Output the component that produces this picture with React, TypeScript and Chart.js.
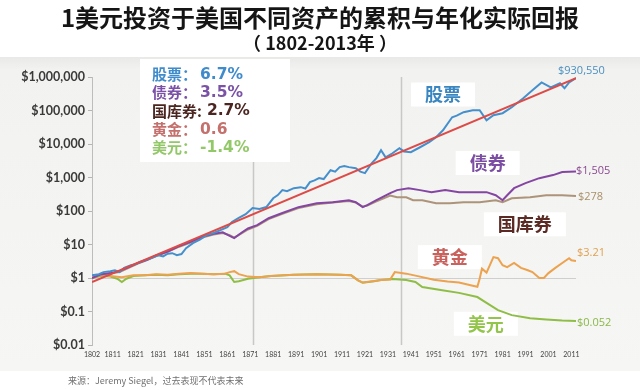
import React, { useEffect, useRef } from "react";
import { Chart, registerables } from "chart.js";
Chart.register(...registerables);

const titleText = "1美元投资于美国不同资产的累积与年化实际回报";
const subtitleText = "（ 1802-2013年 ）";
const sourceText = "来源：Jeremy Siegel，过去表现不代表未来";

const xTickYears = [1802, 1811, 1821, 1831, 1841, 1851, 1861, 1871, 1881, 1891, 1901, 1911, 1921, 1931, 1941, 1951, 1961, 1971, 1981, 1991, 2001, 2011];
const yTickValues = [0.01, 0.1, 1, 10, 100, 1000, 10000, 100000, 1000000];

const legendNames = ["股票", "债券", "国库券", "黄金", "美元"];
const legendSeps = ["：", "：", ":", "：", "："];
const legendValues = ["6.7%", "3.5%", "2.7%", "0.6", "-1.4%"];
const seriesNames = ["股票", "债券", "国库券", "黄金", "美元"];
const endLabels = ["$930,550", "$1,505", "$278", "$3.21", "$0.052"];
const vLineYears = [1872.2, 1936.6];

const trendYears = [1802, 2013];
const trendValues = [0.76, 930550];

const stockYears = [1802, 1805, 1807, 1810, 1812, 1814, 1816, 1819, 1821, 1823, 1826, 1829, 1831, 1833, 1835, 1837, 1839, 1841, 1843, 1846, 1849, 1852, 1855, 1858, 1861, 1863, 1866, 1869, 1872, 1875, 1878, 1881, 1883, 1885, 1887, 1890, 1893, 1895, 1897, 1899, 1901, 1903, 1906, 1908, 1910, 1912, 1914, 1917, 1919, 1921, 1924, 1926, 1928, 1930, 1933, 1936, 1938, 1941, 1945, 1949, 1952, 1955, 1959, 1961, 1964, 1968, 1971, 1974, 1977, 1981, 1985, 1990, 1994, 1998, 2002, 2006, 2008, 2010, 2013];
const stockValues = [1.2, 1.3, 1.5, 1.6, 1.7, 1.5, 2.0, 2.4, 2.6, 3.0, 3.6, 4.2, 4.8, 4.4, 5.3, 5.5, 4.8, 5.2, 7.8, 11, 14, 19, 22, 27, 33, 47, 62, 80, 123, 115, 131, 240, 298, 420, 390, 480, 515, 470, 727, 820, 960, 900, 1650, 1500, 2040, 2200, 2040, 1900, 1500, 1350, 2700, 3800, 6500, 4000, 5300, 7500, 6000, 5700, 8000, 11300, 16000, 25700, 63000, 70000, 89000, 102000, 102000, 51000, 72000, 83000, 125000, 232000, 400000, 690000, 490000, 650000, 460000, 690000, 930550];

const bondYears = [1802, 1806, 1810, 1814, 1818, 1822, 1826, 1830, 1835, 1840, 1845, 1850, 1855, 1859, 1862, 1864, 1867, 1870, 1874, 1879, 1885, 1892, 1900, 1907, 1914, 1917, 1920, 1922, 1926, 1932, 1935, 1940, 1945, 1950, 1956, 1962, 1968, 1974, 1978, 1981, 1983, 1986, 1991, 1997, 2003, 2007, 2013];
const bondValues = [1.0, 1.3, 1.4, 1.6, 2.1, 2.8, 3.5, 4.7, 6.2, 9, 12, 17, 21, 23, 18, 15.5, 22, 30, 38, 61, 87, 130, 171, 183, 210, 183, 130, 149, 210, 341, 420, 480, 420, 365, 420, 365, 365, 365, 296, 210, 296, 480, 680, 955, 1180, 1450, 1505];

const billYears = [1802, 1806, 1810, 1814, 1818, 1822, 1826, 1830, 1835, 1840, 1845, 1850, 1855, 1859, 1862, 1864, 1867, 1870, 1874, 1879, 1885, 1892, 1900, 1907, 1914, 1917, 1920, 1922, 1926, 1932, 1935, 1939, 1942, 1946, 1952, 1958, 1964, 1971, 1978, 1981, 1985, 1993, 2000, 2007, 2013];
const billValues = [1.0, 1.25, 1.35, 1.5, 2.0, 2.7, 3.4, 4.5, 6.0, 8.6, 11.5, 16, 20, 22, 19, 16, 21, 28, 36, 57, 82, 122, 160, 178, 200, 178, 135, 145, 195, 290, 257, 257, 210, 210, 170, 170, 183, 183, 210, 183, 240, 257, 296, 296, 278];

const goldYears = [1802, 1806, 1810, 1815, 1820, 1825, 1830, 1835, 1840, 1845, 1850, 1855, 1860, 1862, 1864, 1866, 1870, 1875, 1880, 1890, 1900, 1910, 1915, 1918, 1920, 1925, 1928, 1932, 1934, 1939, 1945, 1951, 1957, 1962, 1968, 1970, 1971, 1972, 1974, 1977, 1979, 1981, 1983, 1986, 1989, 1992, 1994, 1997, 1999, 2001, 2004, 2007, 2010, 2011, 2013];
const goldValues = [1.1, 1.2, 1.15, 1.05, 1.2, 1.2, 1.3, 1.25, 1.35, 1.4, 1.35, 1.3, 1.35, 1.5, 1.6, 1.3, 1.1, 1.05, 1.15, 1.25, 1.3, 1.25, 1.2, 0.85, 0.74, 0.82, 0.87, 0.9, 1.5, 1.35, 1.1, 0.89, 0.78, 0.73, 0.59, 0.55, 0.95, 1.9, 1.45, 4.2, 3.9, 2.4, 2.1, 2.8, 2.0, 1.7, 1.5, 1.0, 1.0, 1.4, 2.0, 2.8, 3.9, 3.4, 3.21];

const dollarYears = [1802, 1806, 1810, 1813, 1815, 1817, 1820, 1825, 1830, 1835, 1840, 1845, 1850, 1855, 1860, 1862, 1864, 1866, 1870, 1875, 1880, 1890, 1900, 1910, 1915, 1918, 1920, 1925, 1928, 1933, 1939, 1943, 1946, 1954, 1962, 1970, 1974, 1979, 1985, 1993, 2000, 2007, 2013];
const dollarValues = [1.0, 1.15, 1.1, 0.95, 0.76, 0.95, 1.15, 1.2, 1.25, 1.2, 1.3, 1.35, 1.35, 1.3, 1.35, 1.2, 0.76, 0.8, 0.95, 1.05, 1.15, 1.25, 1.3, 1.25, 1.2, 0.85, 0.72, 0.8, 0.87, 0.93, 0.87, 0.76, 0.54, 0.44, 0.36, 0.27, 0.18, 0.11, 0.078, 0.063, 0.058, 0.054, 0.052];

// anchor (year, value) for in-plot series names
const nameYears = [1955, 1974.5, 1990.7, 1958, 1973.7];
const nameValues = [300000, 2700, 40, 4.2, 0.043];

const lineColors = ["#4590cc", "#8446a2", "#ad9379", "#eca24e", "#8fbd45"];
const legendColors = ["#3f8ccc", "#7a52a6", "#4b2620", "#c4706c", "#93c868"];
const nameColors = ["#3a86c0", "#7b4ea3", "#5b2a24", "#c9615c", "#92c54a"];
const endColors = ["#4a8fc0", "#8a4a90", "#a8906a", "#e0a050", "#8ab84a"];
const trendColor = "#dc4b47";

const CJK = '"Noto Sans CJK SC", "Noto Sans", sans-serif';
const LAT = '"DejaVu Sans", sans-serif';

function pts(xs: number[], ys: number[]) {
  return xs.map((x, i) => ({ x, y: ys[i] }));
}

function fmtDollar(v: number) {
  if (v >= 1) return "$" + String(Math.round(v)).replace(/\B(?=(\d{3})+(?!\d))/g, ",");
  return "$" + String(v);
}

const decor = {
  id: "decor",
  beforeDraw(chart: any) {
    const { ctx, chartArea, scales } = chart;
    ctx.save();
    ctx.fillStyle = "#ffffff";
    ctx.fillRect(0, 0, chart.width, chart.height);
    const g = ctx.createLinearGradient(0, 57, 0, 372);
    g.addColorStop(0, "#e9e9e7");
    g.addColorStop(0.04, "#f2f2f0");
    g.addColorStop(1, "#f6f6f4");
    ctx.fillStyle = g;
    ctx.fillRect(0, 57, chart.width, 314);

    // vertical separators
    ctx.strokeStyle = "#c8c8c8";
    ctx.lineWidth = 1.5;
    vLineYears.forEach((yr) => {
      const x = Math.round(scales.x.getPixelForValue(yr)) + 0.5;
      ctx.beginPath();
      ctx.moveTo(x, chartArea.top);
      ctx.lineTo(x, chartArea.bottom);
      ctx.stroke();
    });

    // white boxes
    ctx.fillStyle = "#ffffff";
    ctx.fillRect(140, 59, 150, 103);
    ctx.font = "bold 18px " + CJK;
    seriesNames.forEach((n, i) => {
      const cx = scales.x.getPixelForValue(nameYears[i]);
      const cy = scales.y.getPixelForValue(nameValues[i]);
      const w = ctx.measureText(n).width;
      ctx.fillRect(cx - w / 2 - 14, cy - 12, w + 28, 24);
    });
    ctx.restore();
  },
  afterDatasetsDraw(chart: any) {
    const { ctx, scales } = chart;
    ctx.save();
    ctx.textBaseline = "middle";

    // title
    ctx.fillStyle = "#151515";
    ctx.textAlign = "center";
    ctx.font = "bold 24px " + CJK;
    ctx.fillText(titleText, 320, 18);
    ctx.font = "bold 18px " + CJK;
    ctx.fillText(subtitleText, 320, 43);

    // legend box text
    ctx.textAlign = "left";
    legendNames.forEach((n, i) => {
      const y = 74 + i * 18.4;
      let x = 152;
      ctx.fillStyle = legendColors[i];
      ctx.font = "bold 15px " + CJK;
      ctx.fillText(n, x, y);
      x += ctx.measureText(n).width;
      ctx.fillText(legendSeps[i], x, y);
      x += ctx.measureText(legendSeps[i]).width + (legendSeps[i] === ":" ? 5 : 3);
      ctx.font = "bold 15.5px " + LAT;
      ctx.fillText(legendValues[i], x, y + 0.5);
    });

    // series names in plot
    ctx.textAlign = "center";
    ctx.font = "bold 18px " + CJK;
    seriesNames.forEach((n, i) => {
      ctx.fillStyle = nameColors[i];
      ctx.fillText(n, scales.x.getPixelForValue(nameYears[i]), scales.y.getPixelForValue(nameValues[i]));
    });

    // end labels
    const lastPts = [
      [stockYears[stockYears.length - 1], stockValues[stockValues.length - 1]],
      [bondYears[bondYears.length - 1], bondValues[bondValues.length - 1]],
      [billYears[billYears.length - 1], billValues[billValues.length - 1]],
      [goldYears[goldYears.length - 1], goldValues[goldValues.length - 1]],
      [dollarYears[dollarYears.length - 1], dollarValues[dollarValues.length - 1]],
    ];
    const offs = [[-18, -7], [0, -1], [2, 1], [1, -8], [1, 2]];
    ctx.font = "11px " + '"Open Sans", sans-serif';
    ctx.textAlign = "left";
    lastPts.forEach((p, i) => {
      const x = scales.x.getPixelForValue(p[0]) + offs[i][0];
      const y = scales.y.getPixelForValue(p[1]) + offs[i][1];
      ctx.fillStyle = endColors[i];
      ctx.fillText(endLabels[i], x, y);
    });

    // source
    ctx.fillStyle = "#707070";
    ctx.font = "9px " + CJK;
    ctx.textAlign = "left";
    ctx.fillText(sourceText, 68, 381);
    ctx.restore();
  },
};

export default function App() {
  const ref = useRef<HTMLCanvasElement>(null);
  useEffect(() => {
    const ds = (label: string, xs: number[], ys: number[], color: string) => ({
      label,
      data: pts(xs, ys),
      borderColor: color,
      backgroundColor: color,
      borderWidth: 2,
      pointRadius: 0,
      tension: 0,
      fill: false,
    });
    const chart = new Chart(ref.current as HTMLCanvasElement, {
      type: "line",
      data: {
        datasets: [
          ds("趋势", trendYears, trendValues, trendColor),
          ds("股票", stockYears, stockValues, lineColors[0]),
          ds("债券", bondYears, bondValues, lineColors[1]),
          ds("国库券", billYears, billValues, lineColors[2]),
          ds("黄金", goldYears, goldValues, lineColors[3]),
          ds("美元", dollarYears, dollarValues, lineColors[4]),
        ],
      },
      options: {
        responsive: false,
        animation: false,
        layout: { padding: { top: 77, left: 0, right: 64, bottom: 25 } },
        plugins: { legend: { display: false }, tooltip: { enabled: false }, title: { display: false } },
        scales: {
          x: {
            type: "linear",
            min: 1802,
            max: 2013,
            afterBuildTicks: (s: any) => {
              s.ticks = xTickYears.map((v) => ({ value: v }));
            },
            afterFit: (s: any) => {
              s.height = 20;
            },
            ticks: {
              autoSkip: false,
              maxRotation: 0,
              color: "#444",
              font: { family: "Lato", size: 7 },
              padding: 6,
              callback: (v: any) => String(v),
            },
            grid: { display: false, drawTicks: false },
            border: { display: false },
          },
          y: {
            type: "logarithmic",
            min: 0.01,
            max: 1000000,
            afterBuildTicks: (s: any) => {
              s.ticks = yTickValues.map((v) => ({ value: v }));
            },
            afterFit: (s: any) => {
              s.width = 92;
            },
            ticks: {
              autoSkip: false,
              color: "#3a3a3a",
              font: { family: "Lato", size: 12.5, weight: "bold" },
              padding: 3,
              callback: (v: any) => fmtDollar(Number(v)),
            },
            grid: {
              color: (c: any) => (c.tick && c.tick.value === 1 ? "#cfcfcf" : "rgba(0,0,0,0)"),
              tickColor: "#b5b5b5",
              tickLength: 4,
            },
            border: { display: true, color: "#bdbdbd" },
          },
        },
      },
      plugins: [decor],
    } as any);
    return () => chart.destroy();
  }, []);
  return (
    <div style={{ position: "absolute", left: 0, top: 0, width: 640, height: 390 }}>
      <canvas ref={ref} width={640} height={390} style={{ display: "block", width: 640, height: 390 }} />
    </div>
  );
}
